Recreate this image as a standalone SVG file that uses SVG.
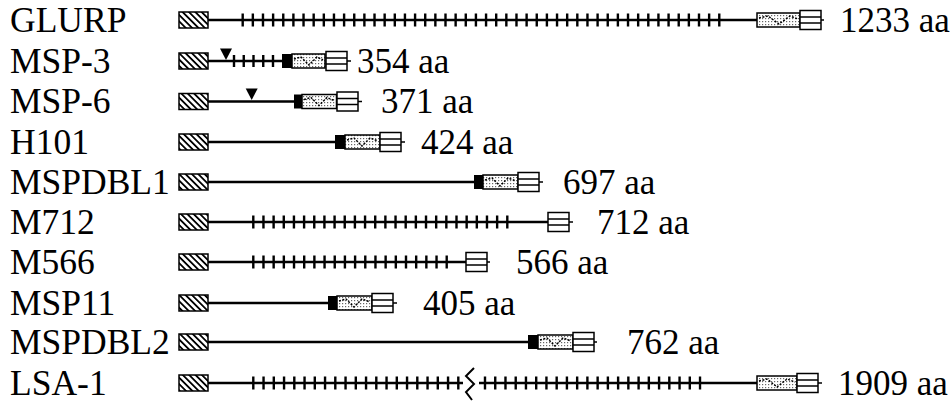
<svg xmlns="http://www.w3.org/2000/svg" width="951" height="402" viewBox="0 0 951 402">
<defs>
<style>
text{font-family:"Liberation Serif","Times New Roman",serif;font-size:35px;fill:#000}
.lb{font-size:35.5px}
.bb{stroke:#000;stroke-width:2.5;fill:none}
.tk{stroke:#000;stroke-width:13;fill:none}
.hb{fill:url(#hatch);stroke:#000;stroke-width:1.5}
.wb{fill:url(#dots);stroke:#000;stroke-width:1.5}
.wv{fill:none;stroke:#000;stroke-width:1.5;stroke-dasharray:2 1.5}
.sb{fill:#fff;stroke:#000;stroke-width:1.5}
.sl{stroke:#000;stroke-width:1.5}
.bk{fill:#000}
</style>
<pattern id="hatch" width="4.5" height="4.5" patternUnits="userSpaceOnUse" patternTransform="rotate(45)">
<rect width="4.5" height="4.5" fill="#fff"/>
<rect width="4.5" height="1.8" fill="#000"/>
</pattern>
<pattern id="dots" width="3" height="3" patternUnits="userSpaceOnUse">
<rect width="3" height="3" fill="#fff"/>
<rect width="1.2" height="1.2" fill="#666"/>
</pattern>
</defs>

<g id="GLURP">
<text class="lb" x="10" y="31.5">GLURP</text>
<line class="bb" x1="208" y1="20" x2="757" y2="20"/>
<line class="tk" x1="241.5" y1="20" x2="720.5" y2="20" stroke-dasharray="2.4 7.74"/>
<rect class="hb" x="179" y="12" width="29" height="16"/>
<rect class="wb" x="757" y="13" width="43" height="14"/>
<path class="wv" d="M759 18 L768 16 L779 24 L790 16 L798 19"/>
<rect class="sb" x="800" y="10.5" width="21" height="19"/>
<path class="sl" d="M800 17H821M800 23H821M821 20H824"/>
<text x="840" y="31.5">1233 aa</text>
</g>

<g id="MSP-3">
<text class="lb" x="10" y="72.5">MSP-3</text>
<line class="bb" x1="208" y1="61" x2="282" y2="61"/>
<line x1="232.8" y1="61" x2="274.2" y2="61" stroke="#000" stroke-width="12" stroke-dasharray="2.4 7.35"/>
<path class="bk" d="M220 48.5H232L226 60Z"/>
<rect class="hb" x="179" y="53" width="29" height="16"/>
<rect class="bk" x="282" y="54" width="10" height="14"/>
<rect class="wb" x="292" y="54" width="33" height="14"/>
<path class="wv" d="M294 59 L301 57 L309 65 L317 57 L323 60"/>
<rect class="sb" x="326" y="51.5" width="21" height="19"/>
<path class="sl" d="M326 58H347M326 64H347M347 61H351"/>
<text x="357" y="72.5">354 aa</text>
</g>

<g id="MSP-6">
<text class="lb" x="10" y="113">MSP-6</text>
<line class="bb" x1="208" y1="101.5" x2="294" y2="101.5"/>
<path class="bk" d="M245.7 88.5H257.7L251.7 100Z"/>
<rect class="hb" x="179" y="93.5" width="29" height="16"/>
<rect class="bk" x="294" y="94.5" width="8" height="14"/>
<rect class="wb" x="302" y="94.5" width="34.5" height="14"/>
<path class="wv" d="M304 99.5 L311 97.5 L319 105.5 L327 97.5 L334 100.5"/>
<rect class="sb" x="337" y="92" width="21" height="19"/>
<path class="sl" d="M337 98.5H358M337 104.5H358M358 101.5H362"/>
<text x="381" y="113">371 aa</text>
</g>

<g id="H101">
<text class="lb" x="10" y="153.5">H101</text>
<line class="bb" x1="208" y1="142" x2="335" y2="142"/>
<rect class="hb" x="179" y="134" width="29" height="16"/>
<rect class="bk" x="335" y="135" width="10" height="14"/>
<rect class="wb" x="345" y="135" width="35" height="14"/>
<path class="wv" d="M347 140 L354 138 L362 146 L370 138 L378 141"/>
<rect class="sb" x="380" y="132.5" width="21" height="19"/>
<path class="sl" d="M380 139H401M380 145H401M401 142H405"/>
<text x="421" y="153.5">424 aa</text>
</g>

<g id="MSPDBL1">
<text class="lb" x="10" y="193.5">MSPDBL1</text>
<line class="bb" x1="208" y1="182" x2="474" y2="182"/>
<rect class="hb" x="179" y="174" width="29" height="16"/>
<rect class="bk" x="474" y="175" width="9" height="14"/>
<rect class="wb" x="483" y="175" width="35" height="14"/>
<path class="wv" d="M485 180 L492 178 L500 186 L508 178 L516 181"/>
<rect class="sb" x="518" y="172.5" width="21" height="19"/>
<path class="sl" d="M518 179H539M518 185H539M539 182H543"/>
<text x="563" y="193.5">697 aa</text>
</g>

<g id="M712">
<text class="lb" x="10" y="233.5">M712</text>
<line class="bb" x1="208" y1="222" x2="548" y2="222"/>
<line class="tk" x1="252.1" y1="222" x2="508.5" y2="222" stroke-dasharray="2.4 7.76"/>
<rect class="hb" x="179" y="214" width="29" height="16"/>
<rect class="sb" x="548" y="212.5" width="21" height="19"/>
<path class="sl" d="M548 219H569M548 225H569M569 222H573"/>
<text x="597" y="233.5">712 aa</text>
</g>

<g id="M566">
<text class="lb" x="10" y="273.5">M566</text>
<line class="bb" x1="208" y1="262" x2="466" y2="262"/>
<line class="tk" x1="252.1" y1="262" x2="447.9" y2="262" stroke-dasharray="2.4 7.78"/>
<rect class="hb" x="179" y="254" width="29" height="16"/>
<rect class="sb" x="466" y="252.5" width="21" height="19"/>
<path class="sl" d="M466 259H487M466 265H487M487 262H490"/>
<text x="516" y="273.5">566 aa</text>
</g>

<g id="MSP11">
<text class="lb" x="10" y="314.5">MSP11</text>
<line class="bb" x1="208" y1="303" x2="328" y2="303"/>
<rect class="hb" x="179" y="295" width="29" height="16"/>
<rect class="bk" x="328" y="296" width="9" height="14"/>
<rect class="wb" x="337" y="296" width="35" height="14"/>
<path class="wv" d="M339 301 L346 299 L354 307 L362 299 L370 302"/>
<rect class="sb" x="372" y="293.5" width="21" height="19"/>
<path class="sl" d="M372 300H393M372 306H393M393 303H397"/>
<text x="423" y="314.5">405 aa</text>
</g>

<g id="MSPDBL2">
<text class="lb" x="10" y="353.5">MSPDBL2</text>
<line class="bb" x1="208" y1="342" x2="528" y2="342"/>
<rect class="hb" x="179" y="334" width="29" height="16"/>
<rect class="bk" x="528" y="335" width="10" height="14"/>
<rect class="wb" x="538" y="335" width="35" height="14"/>
<path class="wv" d="M540 340 L547 338 L555 346 L563 338 L571 341"/>
<rect class="sb" x="573" y="332.5" width="21" height="19"/>
<path class="sl" d="M573 339H594M573 345H594M594 342H597"/>
<text x="627" y="353.5">762 aa</text>
</g>

<g id="LSA-1">
<text class="lb" x="10" y="394.5">LSA-1</text>
<line class="bb" x1="208" y1="383" x2="463" y2="383"/>
<line class="bb" x1="479" y1="383" x2="757" y2="383"/>
<line class="tk" x1="252.1" y1="383" x2="459.5" y2="383" stroke-dasharray="2.4 7.85"/>
<line class="tk" x1="483.8" y1="383" x2="701.2" y2="383" stroke-dasharray="2.4 7.84"/>
<path class="bb" style="stroke-width:2" d="M474 368L466 376L474 384L466 392L472 400"/>
<rect class="hb" x="179" y="375" width="29" height="16"/>
<rect class="wb" x="757" y="376" width="40" height="14"/>
<path class="wv" d="M759 381 L767 379 L777 387 L787 379 L795 382"/>
<rect class="sb" x="797" y="373.5" width="21" height="19"/>
<path class="sl" d="M797 380H818M797 386H818M818 383H822"/>
<text x="838" y="394.5">1909 aa</text>
</g>
</svg>
